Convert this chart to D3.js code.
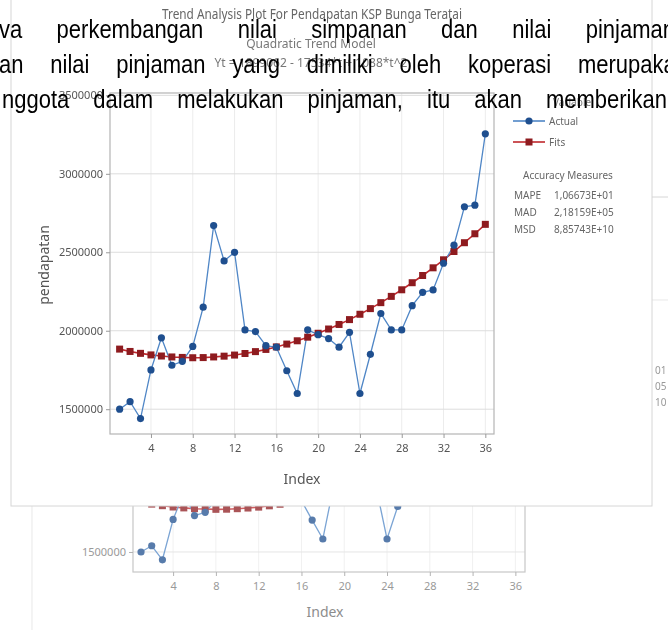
<!DOCTYPE html>
<html><head><meta charset="utf-8">
<script src="https://cdn.jsdelivr.net/npm/d3@7"></script>
<style>body{margin:0;background:#fff;} svg{display:block;}</style>
</head><body><svg id="c" width="668" height="630"></svg>
<script>
// ---- data ----
const indexValues = [1,2,3,4,5,6,7,8,9,10,11,12,13,14,15,16,17,18,19,20,21,22,23,24,25,26,27,28,29,30,31,32,33,34,35,36];
const actual = [1500000,1548000,1440000,1750000,1955000,1780000,1805000,1900000,2150000,2670000,2445000,2500000,
                2005000,1995000,1905000,1895000,1745000,1600000,2005000,1975000,1950000,1895000,1990000,1600000,
                1850000,2110000,2005000,2005000,2160000,2245000,2260000,2430000,2545000,2790000,2800000,3255000];
const fits = [1883000,1868000,1856000,1846000,1839000,1833000,1830000,1828000,1829000,1833000,1838000,1845000,
              1855000,1867000,1881000,1897000,1915000,1936000,1959000,1984000,2011000,2040000,2071000,2105000,
              2141000,2179000,2219000,2261000,2306000,2352000,2401000,2452000,2505000,2561000,2618000,2678000];
const indexTicks = [4,8,12,16,20,24,28,32,36];
const valueTicks = [1500000,2000000,2500000,3000000,3500000];
const seriesNames = ["Actual","Fits"];
const accuracyLabels = ["MAPE","MAD","MSD"];
const accuracyValues = ["1,06673E+01","2,18159E+05","8,85743E+10"];
const titleText = "Trend Analysis Plot For Pendapatan KSP Bunga Teratai";
const subtitleText = "Quadratic Trend Model";
const equationText = "Yt = 1899062 - 17534*t + 1088*t^2";
const paragraphLines = [
  "va perkembangan nilai simpanan dan nilai pinjaman",
  "an nilai pinjaman yang dimiliki oleh koperasi merupakan",
  "nggota dalam melakukan pinjaman, itu akan memberikan"
];

const svg = d3.select("#c");
const FONT = "'Noto Sans', 'Open Sans', sans-serif";
const C_ACT_LINE = "#4f86c6", C_ACT_PT = "#1f4f8f", C_FIT_LINE = "#c0282d", C_FIT_PT = "#8e1b1f";

function drawPlot(g, x, y, opts) {
  const [x0, x1] = x.range(), [yb, yt] = y.range();
  g.selectAll(".vg").data(indexTicks).join("line")
    .attr("x1", d => x(d)).attr("x2", d => x(d)).attr("y1", yt).attr("y2", yb)
    .attr("stroke", "#ececec").attr("stroke-width", 1);
  g.selectAll(".hg").data(valueTicks.filter(v => y(v) >= yt - 0.5)).join("line")
    .attr("x1", x0).attr("x2", x1).attr("y1", d => y(d)).attr("y2", d => y(d))
    .attr("stroke", "#dddddd").attr("stroke-width", 1);
  g.append("rect").attr("x", x0).attr("y", yt).attr("width", x1 - x0).attr("height", yb - yt)
    .attr("fill", "none").attr("stroke", "#b4b4b4").attr("stroke-width", 1.2);
  const ax = g.append("g").attr("transform", `translate(0,${yb})`)
    .call(d3.axisBottom(x).tickValues(indexTicks).tickSize(4).tickPadding(6));
  const ay = g.append("g").attr("transform", `translate(${x0},0)`)
    .call(d3.axisLeft(y).tickValues(valueTicks).tickFormat(d3.format("d")).tickSize(4).tickPadding(3));
  [ax, ay].forEach(a => {
    a.select(".domain").remove();
    a.selectAll("line").attr("stroke", "#9a9a9a");
    a.selectAll("text").attr("fill", opts.tickColor).attr("font-size", 11).attr("font-family", FONT);
  });
  const la = d3.line().x((d, i) => x(indexValues[i])).y(d => y(d));
  g.append("path").datum(fits).attr("d", la).attr("fill", "none")
    .attr("stroke", C_FIT_LINE).attr("stroke-width", 1.6);
  g.append("path").datum(actual).attr("d", la).attr("fill", "none")
    .attr("stroke", C_ACT_LINE).attr("stroke-width", 1.3);
  g.selectAll(".fp").data(fits).join("rect")
    .attr("x", (d, i) => x(indexValues[i]) - 3.5).attr("y", d => y(d) - 3.5)
    .attr("width", 7).attr("height", 7).attr("fill", C_FIT_PT);
  g.selectAll(".ap").data(actual).join("circle")
    .attr("cx", (d, i) => x(indexValues[i])).attr("cy", d => y(d)).attr("r", 3.6)
    .attr("fill", C_ACT_PT);
}

// ---------- background copy (lower, partially hidden) ----------
const bg = svg.append("g").attr("opacity", 0.75);
bg.append("rect").attr("x", 32).attr("y", 300).attr("width", 700).attr("height", 400)
  .attr("fill", "#fff").attr("stroke", "#e2e2e2");
const x2 = d3.scaleLinear().domain([0.25, 36.9]).range([133, 525]);
const y2 = d3.scaleLinear().domain([1346000, 3515000]).range([572, 290]);
drawPlot(bg, x2, y2, {tickColor: "#777"});
bg.append("text").attr("x", 325).attr("y", 617).attr("text-anchor", "middle")
  .attr("font-family", FONT).attr("font-size", 14).attr("fill", "#666").text("Index");

// right edge fragments of another copy
svg.append("line").attr("x1", 652).attr("x2", 668).attr("y1", 197).attr("y2", 197).attr("stroke", "#d6d6d6");
svg.selectAll(".frag").data(accuracyValues).join("text")
  .attr("x", 655).attr("y", (d, i) => 374 + i * 16)
  .attr("font-family", FONT).attr("font-size", 10).attr("fill", "#999")
  .text(d => d.slice(-2));

// ---------- main chart window ----------
const main = svg.append("g");
main.append("rect").attr("x", 11).attr("y", -5).attr("width", 641).attr("height", 511)
  .attr("fill", "#fff").attr("stroke", "#d6d6d6");
const x = d3.scaleLinear().domain([0.08, 36.83]).range([110, 494]);
const y = d3.scaleLinear().domain([1342000, 3515000]).range([434, 93]);
drawPlot(main, x, y, {tickColor: "#555"});

main.append("text").attr("x", 312).attr("y", 19).attr("text-anchor", "middle")
  .attr("font-family", FONT).attr("font-size", 14).attr("fill", "#666")
  .attr("textLength", 300).attr("lengthAdjust", "spacingAndGlyphs").text(titleText);
main.append("text").attr("x", 311).attr("y", 48).attr("text-anchor", "middle")
  .attr("font-family", FONT).attr("font-size", 12).attr("fill", "#777").text(subtitleText);
main.append("text").attr("x", 311).attr("y", 67).attr("text-anchor", "middle")
  .attr("font-family", FONT).attr("font-size", 12).attr("fill", "#777").text(equationText);
main.append("text").attr("x", 302).attr("y", 484).attr("text-anchor", "middle")
  .attr("font-family", FONT).attr("font-size", 14).attr("fill", "#555").text("Index");
main.append("text").attr("transform", "translate(49,265) rotate(-90)").attr("text-anchor", "middle")
  .attr("font-family", FONT).attr("font-size", 14).attr("fill", "#555").text("pendapatan");

// legend
const lg = main.append("g");
lg.append("text").attr("x", 553).attr("y", 106).attr("font-family", FONT).attr("font-size", 10)
  .attr("fill", "#777").text("Variable");
seriesNames.forEach((name, i) => {
  const yy = 121 + i * 21;
  lg.append("line").attr("x1", 513).attr("x2", 545).attr("y1", yy).attr("y2", yy)
    .attr("stroke", i ? C_FIT_LINE : C_ACT_LINE).attr("stroke-width", 1.6);
  if (i) lg.append("rect").attr("x", 525.5).attr("y", yy - 3.5).attr("width", 7).attr("height", 7).attr("fill", C_FIT_PT);
  else lg.append("circle").attr("cx", 529).attr("cy", yy).attr("r", 3.6).attr("fill", C_ACT_PT);
  lg.append("text").attr("x", 549).attr("y", yy + 4).attr("font-family", FONT).attr("font-size", 10)
    .attr("fill", "#666").text(name);
});
lg.append("text").attr("x", 523).attr("y", 179).attr("font-family", FONT).attr("font-size", 10)
  .attr("fill", "#666").text("Accuracy Measures");
accuracyLabels.forEach((lab, i) => {
  const yy = 199 + i * 17;
  lg.append("text").attr("x", 514).attr("y", yy).attr("font-family", FONT).attr("font-size", 10)
    .attr("fill", "#666").text(lab);
  lg.append("text").attr("x", 554).attr("y", yy).attr("font-family", FONT).attr("font-size", 10)
    .attr("fill", "#666").text(accuracyValues[i]);
});

// ---------- overlaid paragraph text (justified, slightly condensed) ----------
const PFONT = "'Liberation Sans', Arial, sans-serif";
const SX = 0.88;
const lineLayout = [{x0: -1, x1: 675, y: 38}, {x0: -1, x1: 688, y: 73}, {x0: 2, x1: 667, y: 108}];
paragraphLines.forEach((line, li) => {
  const words = line.split(" ");
  const L = lineLayout[li];
  const t = svg.append("g");
  const nodes = words.map(w => t.append("text").attr("font-family", PFONT)
    .attr("font-size", 25).attr("fill", "#000").text(w));
  const widths = nodes.map(n => n.node().getComputedTextLength() * SX);
  const total = d3.sum(widths);
  const gap = (L.x1 - L.x0 - total) / (words.length - 1);
  let cx = L.x0;
  nodes.forEach((n, i) => { n.attr("transform", `translate(${cx},${L.y}) scale(${SX},1)`); cx += widths[i] + gap; });
});
</script></body></html>
